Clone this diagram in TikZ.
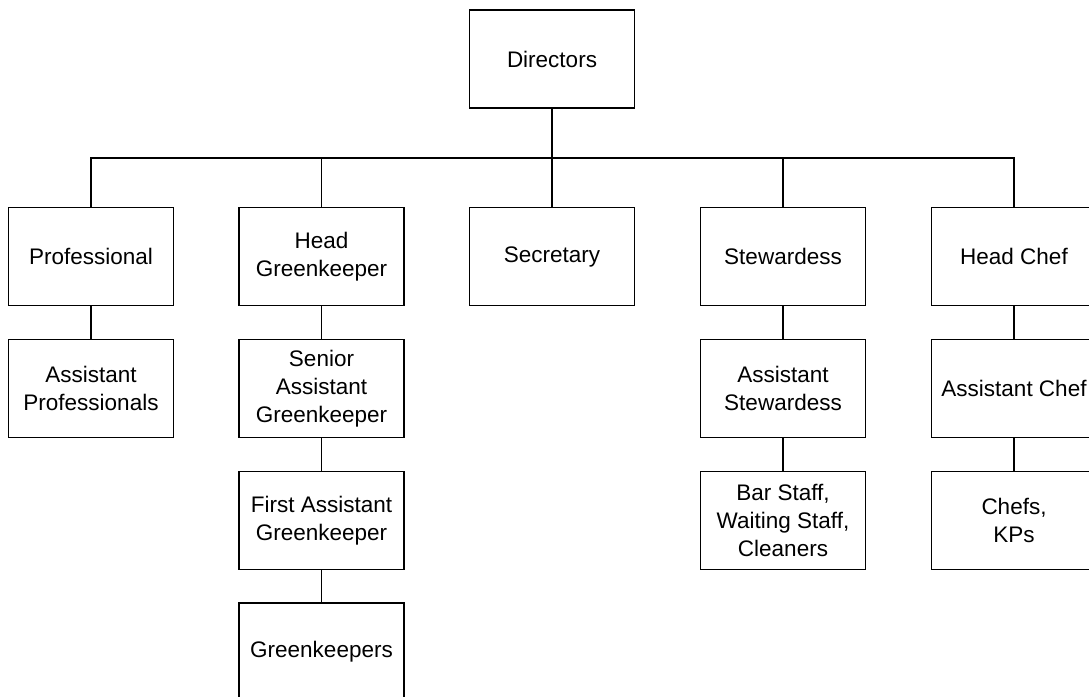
\documentclass[tikz,border=0pt]{standalone}
\usepackage{fontspec}
\setmainfont{Liberation Sans}
\begin{document}
\begin{tikzpicture}[x=1pt,y=-1pt,
  box/.style={draw,line width=1.8pt,minimum width=165pt,minimum height=98pt,inner sep=0pt,align=center,font=\fontsize{22.5}{28}\selectfont},
  conn/.style={line width=1.8pt}]
\useasboundingbox (0,0) rectangle (1089,696);
\clip (0,0) rectangle (1089,696);
\node[box] (dir) at (552,59) {Directors};
\node[box] (prof) at (91,256.5) {Professional};
\node[box] (hg) at (321.5,256.5) {Head\\Greenkeeper};
\node[box] (sec) at (552,256.5) {Secretary};
\node[box] (stew) at (783,256.5) {Stewardess};
\node[box] (chef) at (1014,256.5) {Head Chef};
\node[box] (aprof) at (91,388.5) {Assistant\\Professionals};
\node[box] (sag) at (321.5,388.5) {Senior\\Assistant\\Greenkeeper};
\node[box] (fag) at (321.5,520.5) {First Assistant\\Greenkeeper};
\node[box] (gk) at (321.5,652) {Greenkeepers};
\node[box] (astew) at (783,388.5) {Assistant\\Stewardess};
\node[box] (bar) at (783,520.5) {Bar Staff,\\Waiting Staff,\\Cleaners};
\node[box] (achef) at (1014,388.5) {Assistant Chef};
\node[box] (chefs) at (1014,520.5) {Chefs,\\KPs};
\coordinate (bus) at (552,158);
\draw[conn] (dir) -- (sec);
\draw[conn] (prof.north) |- (bus) -| (chef.north);
\draw[conn] (hg.north) -- (hg.north |- bus);
\draw[conn] (stew.north) -- (stew.north |- bus);
\draw[conn] (prof) -- (aprof);
\draw[conn] (hg) -- (sag);
\draw[conn] (sag) -- (fag);
\draw[conn] (fag) -- (gk);
\draw[conn] (stew) -- (astew);
\draw[conn] (astew) -- (bar);
\draw[conn] (chef) -- (achef);
\draw[conn] (achef) -- (chefs);
\end{tikzpicture}
\end{document}
